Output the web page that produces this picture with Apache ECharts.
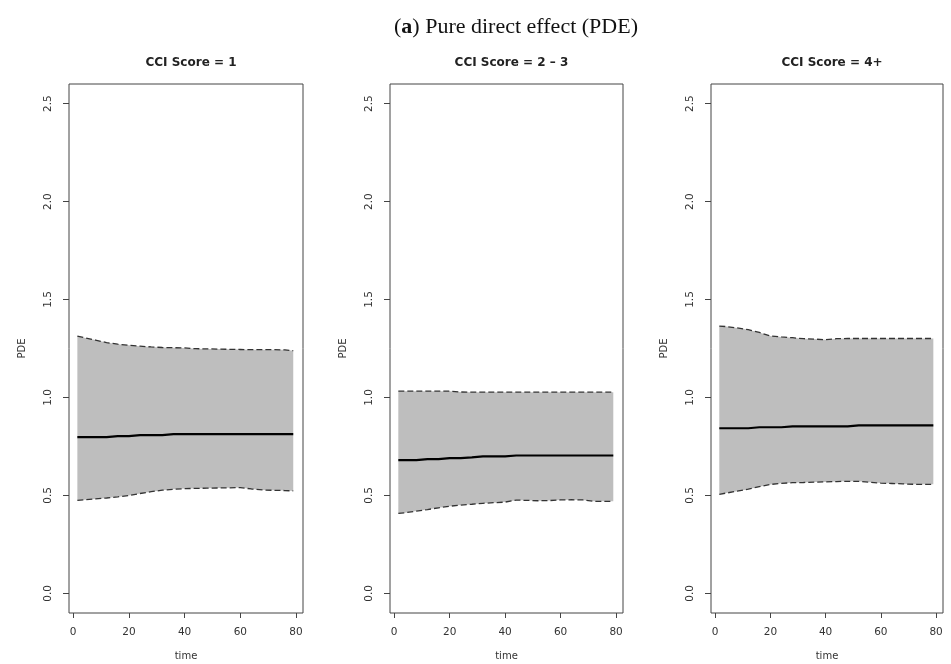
<!DOCTYPE html>
<html>
<head>
<meta charset="utf-8">
<script src="https://cdn.jsdelivr.net/npm/echarts@6/dist/echarts.min.js"></script>
<style>
html,body{margin:0;padding:0;background:#fff;}
#chart{width:951px;height:664px;}
</style>
</head>
<body>
<div id="chart"></div>
<script>
// ---- data ----
var mainTitle = "(a) Pure direct effect (PDE)";
var panelTitles = ["CCI Score = 1", "CCI Score = 2 \u2013 3", "CCI Score = 4+"];
var xTicks = [0, 20, 40, 60, 80];
var yTicks = [0, 0.5, 1.0, 1.5, 2.0, 2.5];
var time = [1.5, 4, 8, 12, 16, 20, 24, 28, 32, 36, 40, 44, 48, 52, 56, 60, 64, 68, 72, 76, 79];

var upper1  = [1.313, 1.305, 1.293, 1.280, 1.272, 1.266, 1.262, 1.258, 1.255, 1.254, 1.253, 1.249, 1.248, 1.247, 1.246, 1.245, 1.244, 1.244, 1.244, 1.243, 1.239];
var median1 = [0.798, 0.798, 0.798, 0.803, 0.803, 0.808, 0.808, 0.808, 0.813, 0.813, 0.813, 0.813, 0.813, 0.813, 0.813, 0.813, 0.813, 0.813, 0.813, 0.813, 0.813];
var lower1  = [0.475, 0.478, 0.482, 0.487, 0.493, 0.500, 0.510, 0.519, 0.527, 0.531, 0.535, 0.536, 0.537, 0.538, 0.539, 0.540, 0.533, 0.528, 0.526, 0.525, 0.523];

var upper2  = [1.032, 1.032, 1.032, 1.032, 1.032, 1.032, 1.028, 1.027, 1.027, 1.027, 1.027, 1.027, 1.027, 1.027, 1.027, 1.027, 1.027, 1.027, 1.027, 1.027, 1.027];
var median2 = [0.680, 0.680, 0.685, 0.685, 0.690, 0.690, 0.694, 0.699, 0.699, 0.699, 0.704, 0.704, 0.704, 0.704, 0.704, 0.704, 0.704, 0.704, 0.704, 0.704, 0.704];
var lower2  = [0.408, 0.412, 0.420, 0.428, 0.437, 0.445, 0.451, 0.455, 0.460, 0.463, 0.466, 0.476, 0.475, 0.473, 0.474, 0.477, 0.478, 0.477, 0.470, 0.470, 0.470];

var upper3  = [1.364, 1.362, 1.355, 1.346, 1.332, 1.314, 1.309, 1.305, 1.300, 1.298, 1.295, 1.300, 1.301, 1.301, 1.301, 1.301, 1.301, 1.301, 1.301, 1.301, 1.301];
var median3 = [0.843, 0.843, 0.843, 0.848, 0.848, 0.848, 0.853, 0.853, 0.853, 0.853, 0.853, 0.853, 0.858, 0.858, 0.858, 0.858, 0.858, 0.858, 0.858, 0.858, 0.858];
var lower3  = [0.506, 0.512, 0.522, 0.532, 0.545, 0.556, 0.562, 0.565, 0.566, 0.568, 0.569, 0.571, 0.572, 0.572, 0.567, 0.563, 0.561, 0.559, 0.557, 0.557, 0.557];

var panels = [
  {upper: upper1, median: median1, lower: lower1},
  {upper: upper2, median: median2, lower: lower2},
  {upper: upper3, median: median3, lower: lower3}
];

// ---- layout ----
var gridLefts = [69, 390, 711];
var gridWidths = [234, 233, 232];
var gridTop = 84, gridHeight = 529;
var txt = '#333';
var sans = 'DejaVu Sans';
var bandColor = '#bebebe';

function pairs(xs, ys) { return xs.map(function (x, i) { return [x, ys[i]]; }); }

var grids = [], xAxes = [], yAxes = [], series = [], titles = [];

titles.push({
  text: '{p|(}{b|a}{p|) Pure direct effect (PDE)}',
  left: 511, top: 11, textAlign: 'center',
  textStyle: {
    rich: {
      p: {fontFamily: 'Liberation Serif', fontSize: 22, fontWeight: 'normal', color: '#111'},
      b: {fontFamily: 'Liberation Serif', fontSize: 22, fontWeight: 'bold', color: '#111'}
    }
  }
});

function makeBand(p) {
  return function (params, api) {
    if (params.dataIndex !== 0) return null;
    var pts = [];
    for (var k = 0; k < time.length; k++) pts.push(api.coord([time[k], p.lower[k]]));
    for (var j = time.length - 1; j >= 0; j--) pts.push(api.coord([time[j], p.upper[j]]));
    return {
      type: 'polygon',
      shape: {points: pts},
      style: {fill: bandColor}
    };
  };
}

panels.forEach(function (p, i) {
  grids.push({
    left: gridLefts[i], top: gridTop, width: gridWidths[i], height: gridHeight,
    containLabel: false, outerBoundsMode: 'none',
    show: true, borderColor: '#444', borderWidth: 1, backgroundColor: 'transparent'
  });
  titles.push({
    text: panelTitles[i],
    left: gridLefts[i] + gridWidths[i] / 2, top: 52, textAlign: 'center',
    textStyle: {fontFamily: sans, fontSize: 12, fontWeight: 'bold', color: '#222'}
  });
  xAxes.push({
    type: 'value', gridIndex: i, min: -1.5, max: 82.5,
    name: 'time', nameLocation: 'middle', nameGap: 38,
    nameTextStyle: {fontFamily: sans, fontSize: 10, color: txt},
    axisLine: {show: false, onZero: false},
    splitLine: {show: false},
    axisTick: {show: true, inside: false, length: 5, customValues: xTicks, lineStyle: {color: '#444'}},
    axisLabel: {show: true, customValues: xTicks, margin: 14, fontFamily: sans, fontSize: 10.5, color: txt}
  });
  yAxes.push({
    type: 'value', gridIndex: i, min: -0.1, max: 2.6,
    name: 'PDE', nameLocation: 'middle', nameGap: 42, nameRotate: 90,
    nameTextStyle: {fontFamily: sans, fontSize: 10, color: txt},
    axisLine: {show: false, onZero: false},
    splitLine: {show: false},
    axisTick: {show: true, inside: false, length: 6, customValues: yTicks, lineStyle: {color: '#444'}},
    axisLabel: {show: true, customValues: yTicks, rotate: 90, margin: 15, fontFamily: sans, fontSize: 10.5, color: txt,
      formatter: function (v) { return v.toFixed(1); }}
  });

  var bandData = time.map(function (t, k) { return [t, p.lower[k], p.upper[k]]; });
  var common = {xAxisIndex: i, yAxisIndex: i, silent: true, animation: false};
  series.push(Object.assign({}, common, {
    type: 'custom', renderItem: makeBand(p), data: bandData, z: 1,
    encode: {x: 0, y: [1, 2]}
  }));
  series.push(Object.assign({}, common, {
    type: 'line', symbol: 'none', data: pairs(time, p.upper), z: 3,
    lineStyle: {color: '#333', width: 1.3, type: [6, 3]}
  }));
  series.push(Object.assign({}, common, {
    type: 'line', symbol: 'none', data: pairs(time, p.lower), z: 3,
    lineStyle: {color: '#333', width: 1.3, type: [6, 3]}
  }));
  series.push(Object.assign({}, common, {
    type: 'line', symbol: 'none', step: 'end', data: pairs(time, p.median), z: 4,
    lineStyle: {color: '#000', width: 2.2}
  }));
});

var chart = echarts.init(document.getElementById('chart'), null, {renderer: 'canvas'});
chart.setOption({
  animation: false,
  backgroundColor: '#fff',
  title: titles,
  grid: grids,
  xAxis: xAxes,
  yAxis: yAxes,
  series: series
});
</script>
</body>
</html>
